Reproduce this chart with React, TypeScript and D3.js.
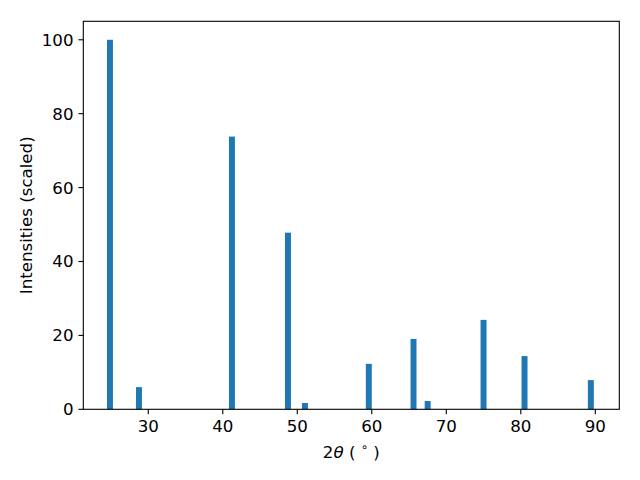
import React from "react";
import * as d3 from "d3";

const positions = [24.86, 28.75, 41.23, 48.75, 51.03, 59.6, 65.6, 67.5, 75.0, 80.5, 89.4];
const intensities = [100, 6.0, 73.8, 47.8, 1.7, 12.3, 19.05, 2.25, 24.2, 14.4, 7.9];
const xTicks = [30, 40, 50, 60, 70, 80, 90];
const yTicks = [0, 20, 40, 60, 80, 100];
const barWidth = 0.8;

export default function App() {
  const W = 640, H = 480;
  const left = 83.3, right = 619.3, top = 21.3, bottom = 409.3;
  const x = d3.scaleLinear().domain([21.28, 93.22]).range([left, right]);
  const y = d3.scaleLinear().domain([0, 105]).range([bottom, top]);
  const font = "DejaVu Sans, sans-serif";
  const fs = 16.67;
  const tick = 4.86;
  return (
    <svg width={W} height={H} style={{ position: "absolute", left: 0, top: 0, background: "#fff" }}>
      <rect x={0} y={0} width={W} height={H} fill="#fff" />
      {positions.map((p, i) => (
        <rect
          key={i}
          x={x(p - barWidth / 2)}
          y={y(intensities[i])}
          width={x(p + barWidth / 2) - x(p - barWidth / 2)}
          height={y(0) - y(intensities[i])}
          fill="#1f77b4"
        />
      ))}
      <rect x={left} y={top} width={right - left} height={bottom - top} fill="none" stroke="#000" strokeWidth={1.1} />
      {xTicks.map((t) => (
        <g key={t}>
          <line x1={x(t)} x2={x(t)} y1={bottom} y2={bottom + tick} stroke="#000" strokeWidth={1.1} />
          <text x={x(t)} y={bottom + tick + 4.9 + fs * 0.76} textAnchor="middle" fontFamily={font} fontSize={fs} fill="#000">
            {t}
          </text>
        </g>
      ))}
      {yTicks.map((t) => (
        <g key={t}>
          <line x1={left - tick} x2={left} y1={y(t)} y2={y(t)} stroke="#000" strokeWidth={1.1} />
          <text x={left - tick - 4.9} y={y(t)} dy="0.36em" textAnchor="end" fontFamily={font} fontSize={fs} fill="#000">
            {t}
          </text>
        </g>
      ))}
      <text x={(left + right) / 2} y={458} textAnchor="middle" fontFamily={font} fontSize={fs} fill="#000" xmlSpace="preserve">
        2<tspan fontStyle="italic">θ</tspan> ( <tspan fontSize={fs * 0.7} dy={-7}>∘</tspan><tspan dy={7}> )</tspan>
      </text>
      <text
        transform={`translate(32, ${(top + bottom) / 2}) rotate(-90)`}
        textAnchor="middle"
        fontFamily={font}
        fontSize={fs}
        fill="#000"
      >
        Intensities (scaled)
      </text>
    </svg>
  );
}
